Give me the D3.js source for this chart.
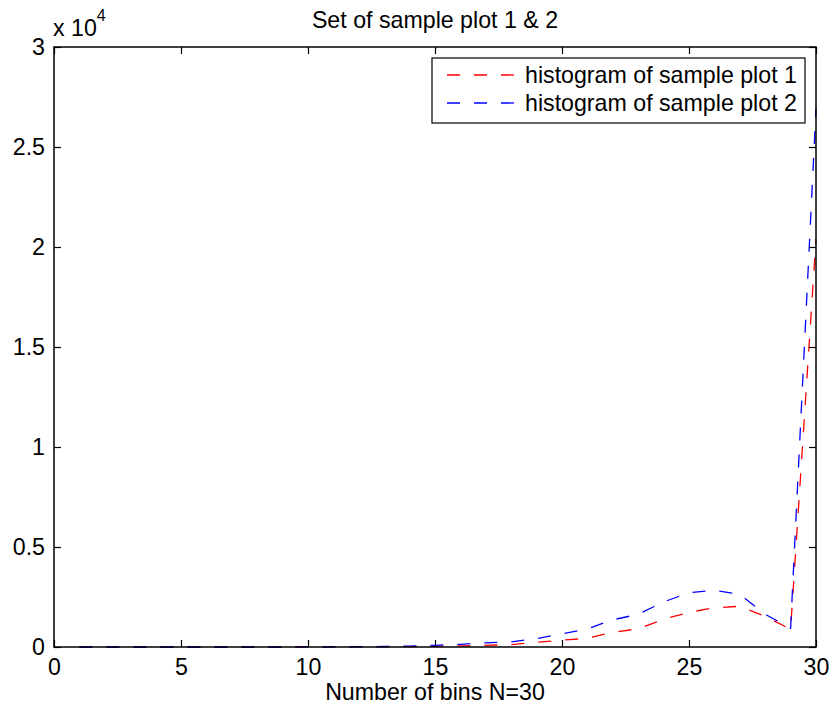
<!DOCTYPE html>
<html>
<head>
<meta charset="utf-8">
<script src="https://cdn.jsdelivr.net/npm/d3@7/dist/d3.min.js"></script>
<style>
  html, body { margin: 0; padding: 0; background: #fff; }
  svg { display: block; font-family: "Liberation Sans", Arial, sans-serif; }
</style>
</head>
<body>
<svg id="chart" width="830" height="709"></svg>
<script>
// ---- data ----
const bins = d3.range(1, 31);
const sample1 = [0, 0, 0, 0, 0, 0, 0, 0, 0, 2, 4, 8, 12, 20, 35, 60, 85, 120, 235, 340,
                 435, 735, 910, 1385, 1735, 1960, 2035, 1535, 885, 20400];
const sample2 = [0, 0, 0, 0, 0, 0, 0, 0, 0, 5, 8, 15, 25, 45, 85, 135, 210, 260, 420, 660,
                 910, 1360, 1635, 2250, 2720, 2835, 2635, 1635, 935, 26900];
const xTicks = [0, 5, 10, 15, 20, 25, 30];
const yTicks = [0, 5000, 10000, 15000, 20000, 25000, 30000];
const yTickLabels = ["0", "0.5", "1", "1.5", "2", "2.5", "3"];
const seriesNames = ["histogram of sample plot 1", "histogram of sample plot 2"];
const seriesColors = ["#ff0000", "#0000ff"];
const chartTitle = "Set of sample plot 1 & 2";
const xLabel = "Number of bins N=30";

// ---- layout ----
const svg = d3.select("#chart");
const pLeft = 54, pRight = 816, pTop = 47, pBottom = 647;
const x = d3.scaleLinear().domain([0, 30]).range([pLeft, pRight]);
const y = d3.scaleLinear().domain([0, 30000]).range([pBottom, pTop]);
const fs = 23.2;

// lines
const line = d3.line().x((d, i) => x(bins[i])).y(d => y(d));
const plot = svg.append("g");
[sample1, sample2].forEach((s, k) => {
  plot.append("path")
    .datum(s)
    .attr("d", line)
    .attr("fill", "none")
    .attr("stroke", seriesColors[k])
    .attr("stroke-width", 1.3)
    .attr("stroke-dasharray", "13,14");
});

// axes (MATLAB box with inward ticks on all sides)
const tickLen = 7;
const axStroke = "#000";
const bx = d3.axisBottom(x).tickValues(xTicks).tickSize(-tickLen).tickPadding(12).tickFormat(d3.format("d"));
const tx = d3.axisTop(x).tickValues(xTicks).tickSize(-tickLen).tickFormat("");
const ly = d3.axisLeft(y).tickValues(yTicks).tickSize(-tickLen).tickPadding(9).tickFormat((d, i) => yTickLabels[i]);
const ry = d3.axisRight(y).tickValues(yTicks).tickSize(-tickLen).tickFormat("");

function style(g) {
  g.select(".domain").remove();
  g.selectAll(".tick line").attr("stroke", axStroke).attr("stroke-width", 1.2);
  g.selectAll(".tick text").attr("fill", "#000").style("font-size", fs + "px")
    .style("font-family", '"Liberation Sans", Arial, sans-serif');
}
svg.append("g").attr("transform", `translate(0,${pBottom})`).call(bx).call(style);
svg.append("g").attr("transform", `translate(0,${pTop})`).call(tx).call(style);
svg.append("g").attr("transform", `translate(${pLeft},0)`).call(ly).call(style);
svg.append("g").attr("transform", `translate(${pRight},0)`).call(ry).call(style);

svg.append("rect")
  .attr("x", pLeft).attr("y", pTop)
  .attr("width", pRight - pLeft).attr("height", pBottom - pTop)
  .attr("fill", "none").attr("stroke", axStroke).attr("stroke-width", 1.5);

// exponent label
const exp = svg.append("text").attr("x", 53).attr("y", 36).attr("font-size", fs).attr("fill", "#000");
exp.append("tspan").text("x 10");
exp.append("tspan").attr("dy", -15).attr("font-size", 16).text("4");

// title & x label
svg.append("text").attr("x", (pLeft + pRight) / 2).attr("y", 28)
  .attr("text-anchor", "middle").attr("font-size", fs).attr("fill", "#000").text(chartTitle);
svg.append("text").attr("x", (pLeft + pRight) / 2).attr("y", 700)
  .attr("text-anchor", "middle").attr("font-size", fs).attr("fill", "#000").text(xLabel);

// legend
const lg = svg.append("g");
lg.append("rect").attr("x", 432).attr("y", 58).attr("width", 373).attr("height", 65)
  .attr("fill", "#fff").attr("stroke", "#000").attr("stroke-width", 1.2);
seriesNames.forEach((name, k) => {
  const yy = 75 + k * 28;
  lg.append("line").attr("x1", 447).attr("x2", 517).attr("y1", yy).attr("y2", yy)
    .attr("stroke", seriesColors[k]).attr("stroke-width", 1.3).attr("stroke-dasharray", "13,14");
  lg.append("text").attr("x", 525).attr("y", yy + 8).attr("font-size", fs).attr("fill", "#000").text(name);
});
</script>
</body>
</html>
